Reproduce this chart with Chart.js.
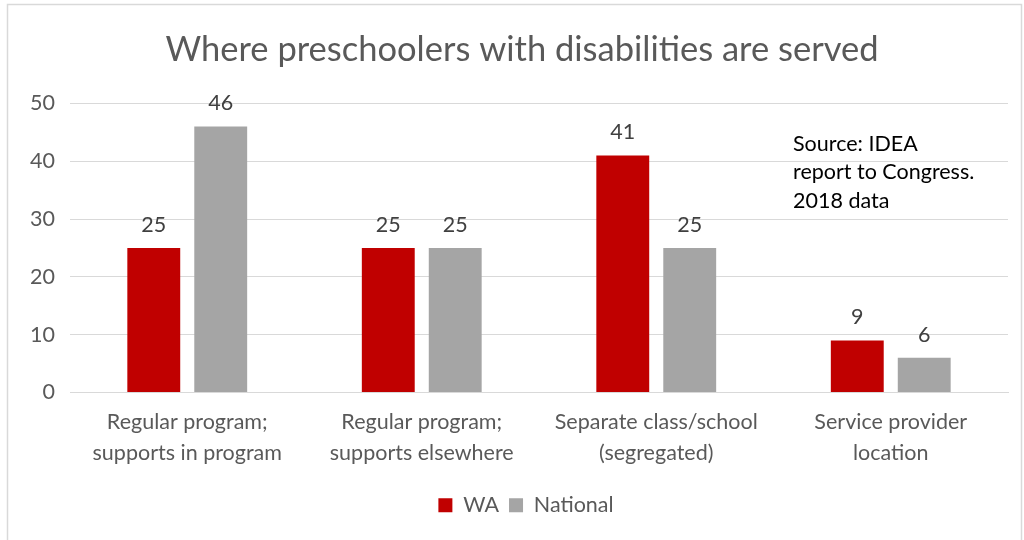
<!DOCTYPE html>
<html>
<head>
<meta charset="utf-8">
<script src="https://cdn.jsdelivr.net/npm/chart.js@4/dist/chart.umd.min.js"></script>
<style>
  body { margin: 0; background: #fff; }
  #wrap { position: relative; width: 1024px; height: 540px; }
</style>
</head>
<body>
<div id="wrap"><canvas id="chart" width="1024" height="540"></canvas></div>
<script>
const categories = [
  ["Regular program;", "supports in program"],
  ["Regular program;", "supports elsewhere"],
  ["Separate class/school", "(segregated)"],
  ["Service provider", "location"]
];
const waValues = [25, 25, 41, 9];
const nationalValues = [46, 25, 25, 6];
const yTicks = [0, 10, 20, 30, 40, 50];
const sourceNote = ["Source: IDEA", "report to Congress.", "2018 data"];

const FONT = "Lato, 'Open Sans', sans-serif";

// outer frame + value labels + source note
const extras = {
  id: 'extras',
  afterLayout(chart) {
    // title and legend sit a bit right of centre in the original
    chart.titleBlock.left += 18; chart.titleBlock.right += 18;
    chart.legend.left += 22; chart.legend.right += 22;
  },
  beforeDraw(chart) {
    const c = chart.ctx;
    c.save();
    c.strokeStyle = '#d9d9d9';
    c.lineWidth = 1.5;
    c.strokeRect(7.5, 4.5, 1014, 560);
    c.restore();
  },
  afterDatasetsDraw(chart) {
    const c = chart.ctx;
    c.save();
    c.font = "21.5px " + FONT;
    c.fillStyle = '#404040';
    c.textAlign = 'center';
    c.textBaseline = 'middle';
    chart.data.datasets.forEach((ds, i) => {
      chart.getDatasetMeta(i).data.forEach((bar, j) => {
        c.fillText(ds.data[j], bar.x, bar.y - 23);
      });
    });
    c.fillStyle = '#000';
    c.textAlign = 'left';
    sourceNote.forEach((line, k) => c.fillText(line, 793, 144 + k * 28.5));
    c.restore();
  }
};

new Chart(document.getElementById('chart'), {
  type: 'bar',
  data: {
    labels: categories,
    datasets: [
      { label: 'WA', data: waValues, backgroundColor: '#c00000' },
      { label: 'National', data: nationalValues, backgroundColor: '#a5a5a5' }
    ]
  },
  options: {
    responsive: false,
    animation: false,
    layout: { padding: { left: 0, right: 16, top: 0, bottom: 14 } },
    datasets: { bar: { categoryPercentage: 0.571, barPercentage: 0.79 } },
    scales: {
      x: {
        grid: { display: false },
        border: { color: '#d9d9d9' },
        ticks: { color: '#595959', font: { family: FONT, size: 21.5, lineHeight: 1.4 }, padding: 7, maxRotation: 0 },
        afterFit(axis) { axis.height = 92; }
      },
      y: {
        min: 0, max: 50,
        afterBuildTicks(axis) { axis.ticks = yTicks.map(v => ({ value: v })); },
        grid: { color: '#d9d9d9', drawTicks: false },
        border: { display: false },
        ticks: { color: '#595959', font: { family: FONT, size: 21.5 }, padding: 15 },
        afterFit(axis) { axis.width = 70; }
      }
    },
    plugins: {
      title: {
        display: true,
        text: 'Where preschoolers with disabilities are served',
        color: '#595959',
        font: { family: FONT, size: 34.5, weight: 'normal' },
        padding: { top: 29, bottom: 33 }
      },
      legend: {
        position: 'bottom',
        labels: { color: '#595959', font: { family: FONT, size: 21.5 }, boxWidth: 14, boxHeight: 14, padding: 10 }
      },
      tooltip: { enabled: false }
    }
  },
  plugins: [extras]
});
</script>
</body>
</html>
